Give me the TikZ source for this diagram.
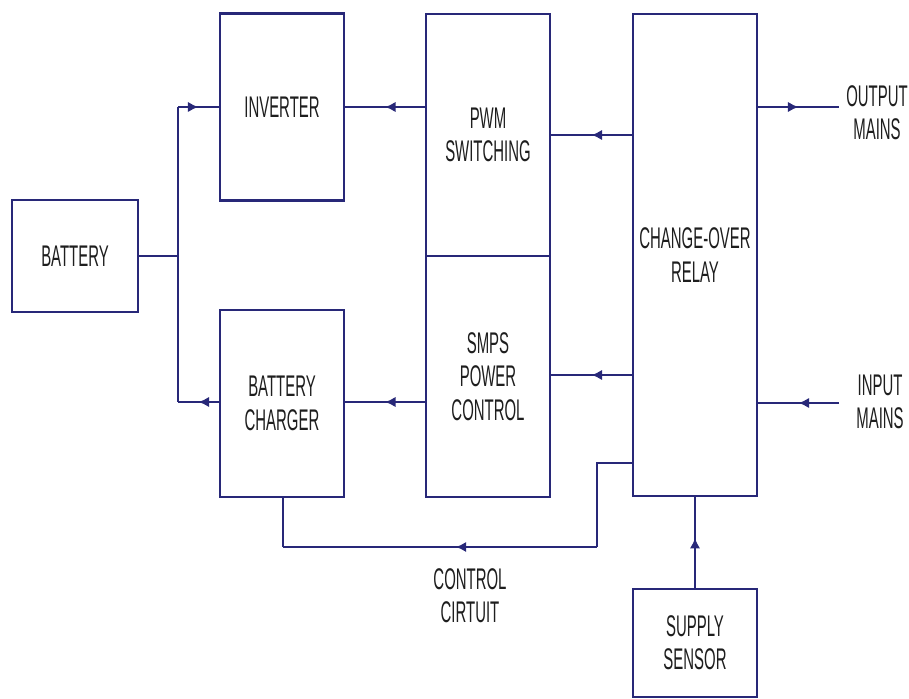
\documentclass[tikz,border=0pt]{standalone}
\usepackage{fontspec}
\setmainfont{Liberation Sans}[FakeStretch=0.5]
\usepackage{xcolor}
\usepackage{tikz}
\usetikzlibrary{arrows.meta, decorations.markings}
\definecolor{wireblue}{RGB}{40, 40, 120}
\definecolor{boxtext}{RGB}{30, 30, 30}

\tikzset{
	blockbox/.style={draw=wireblue, line width=1.2pt, text=boxtext, align=center,
		minimum width=2.48cm, font=\fontsize{17}{19}\selectfont},
	sidelabel/.style={text=boxtext, align=center, font=\fontsize{17}{19}\selectfont},
	wire/.style={draw=wireblue, line width=1.3pt},
	midarrow/.style={wire, postaction={decorate}, decoration={markings,
		mark=at position #1 with {\arrow[wireblue]{Latex[length=6pt,width=6pt]}}}},
	midarrow/.default=0.5
}

\begin{document}
\begin{tikzpicture}[x=0.02cm, y=-0.02cm]
	\useasboundingbox[fill=white] (0,0) rectangle (909,699);

	% Blocks
	\node[blockbox, minimum width=2.52cm, minimum height=2.24cm] (battery) at (75, 256) {BATTERY};
	\node[blockbox, minimum height=3.74cm] (inverter) at (282, 107) {INVERTER};
	\node[blockbox, minimum height=3.74cm] (charger) at (282, 403.5) {BATTERY\\CHARGER};
	\node[blockbox, minimum height=4.84cm] (pwm) at (488, 135) {PWM\\SWITCHING};
	\node[blockbox, minimum height=4.82cm] (smps) at (488, 376.5) {SMPS\\POWER\\CONTROL};
	\node[blockbox, minimum height=9.64cm] (relay) at (695, 255) {CHANGE-OVER\\RELAY};
	\node[blockbox, minimum height=2.16cm] (sensor) at (695, 643) {SUPPLY\\SENSOR};

	% Outside labels
	\node[sidelabel] (outlbl) at (877, 113) {OUTPUT\\MAINS};
	\node[sidelabel] (inlbl) at (880, 402) {INPUT\\MAINS};
	\node[sidelabel] (ctrllbl) at (470, 596) {CONTROL\\CIRTUIT};

	% Junction points
	\coordinate (jtop) at (178, 107);
	\coordinate (jbot) at (178, 402);
	\coordinate (jn) at (jtop |- battery.east);
	\coordinate (outend) at (839, 107);
	\coordinate (inend) at (839, 403);
	\coordinate (ctrlA) at (597, 463);
	\coordinate (ctrlB) at (597, 547);
	\coordinate (ctrlC) at (283, 547);

	% Battery side
	\draw[wire] (battery.east) -- (jn);
	\draw[wire] (jtop) -- (jbot);
	\draw[midarrow] (jtop) -- (inverter.west);
	\draw[midarrow] (charger.west |- jbot) -- (jbot);

	% Into inverter and charger
	\draw[midarrow] (pwm.west |- inverter.east) -- (inverter.east);
	\draw[midarrow] (smps.west |- jbot) -- (charger.east |- jbot);

	% From relay
	\draw[midarrow] (relay.west |- pwm.east) -- (pwm.east);
	\draw[midarrow] (relay.west |- 0,375) -- (smps.east |- 0,375);
	\draw[midarrow] (relay.east |- outend) -- (outend);
	\draw[midarrow] (inend) -- (relay.east |- inend);

	% Control circuit
	\draw[wire] (relay.west |- ctrlA) -- (ctrlA) -- (ctrlB);
	\draw[midarrow=0.45] (ctrlB) -- (ctrlC);
	\draw[wire] (ctrlC) -- (charger.south -| ctrlC);

	% Supply sensor
	\draw[midarrow=0.55] (sensor.north) -- (relay.south);
\end{tikzpicture}
\end{document}
